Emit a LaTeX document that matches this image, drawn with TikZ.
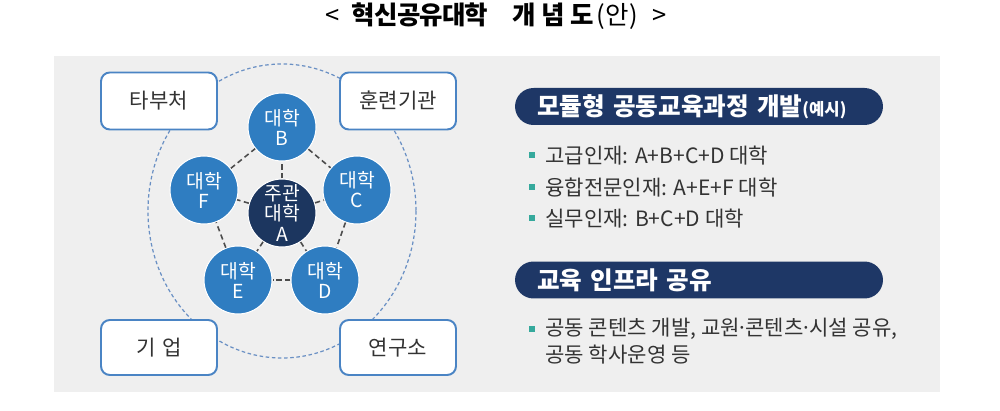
\documentclass[tikz,border=0pt]{standalone}
\usepackage{fontspec}
\setmainfont{Noto Sans CJK KR}
\definecolor{bgc}{HTML}{EFEFEF}
\definecolor{boxline}{HTML}{4A84C4}
\definecolor{ringc}{HTML}{6A90C4}
\definecolor{uni}{HTML}{2F7DC1}
\definecolor{core}{HTML}{1C365F}
\definecolor{pillc}{HTML}{1E3766}
\definecolor{bulc}{HTML}{35A99C}
\definecolor{txt}{HTML}{333333}
\newcommand{\tca}[1]{\makebox[0.452cm]{#1}}
\newcommand{\tcb}[1]{\makebox[0.58cm]{#1}}
\newcommand{\ndot}{\kern-0.15em·\kern-0.15em}
\tikzset{
  outbox/.style={draw=boxline, line width=1.1pt, fill=white, rounded corners=5pt,
    minimum width=2.32cm, minimum height=1.14cm, font=\fontsize{12}{13}\selectfont, text=txt},
  unic/.style={circle, fill=uni, draw=white, line width=0.6pt, minimum size=1.36cm, inner sep=0pt,
    text=white, align=center, font=\fontsize{11}{11.4}\selectfont},
  corec/.style={unic, fill=core},
  link/.style={draw=black!70, line width=0.9pt, dash pattern=on 3pt off 2pt},
  ring/.style={draw=ringc, line width=0.7pt, dash pattern=on 2pt off 1.5pt},
  pill/.style={fill=pillc, rounded corners=0.37cm, minimum width=7.36cm, minimum height=0.74cm,
    text width=6.48cm, inner xsep=0.44cm, align=left, text=white, font=\fontsize{14}{15}\selectfont\bfseries},
  bultext/.style={anchor=west, text=txt, align=left, inner sep=0pt, font=\fontsize{12}{15.4}\selectfont},
  bulsq/.style={fill=bulc, minimum size=0.13cm, inner sep=0pt},
}
\begin{document}
\begin{tikzpicture}[x=0.02cm,y=-0.02cm]
\useasboundingbox (0,0) rectangle (1000,411);
\fill[bgc] (54,56) rectangle (940,392);
\node[font=\fontsize{14.5}{15}\selectfont, text=black, inner sep=0pt] (title) at (496,16)
  {<\hspace{0.26cm}{\bfseries\tca{혁}\tca{신}\tca{공}\tca{유}\tca{대}\tca{학}\hspace{0.44cm}\tcb{개}\tcb{념}\tcb{도}}(안)\hspace{0.3cm}>};
% outer ring
\draw[ring] (282,211) ellipse [x radius=134, y radius=147];
% outer partner boxes
\node[outbox] (gov) at (159,101) {타부처};
\node[outbox] (train) at (398,101) {훈련기관};
\node[outbox, minimum height=1.1cm] (firm) at (159,347.5) {기\,\,업};
\node[outbox, minimum height=1.1cm] (lab) at (398,347.5) {연구소};
% universities
\node[corec] (A) at (282,213) {주관\\대학\\A};
\node[unic] (B) at (282,127) {대학\\B};
\node[unic] (C) at (357,190) {대학\\C};
\node[unic] (D) at (325,280) {대학\\D};
\node[unic] (E) at (238,280) {대학\\E};
\node[unic] (F) at (204,190) {대학\\F};
\foreach \u in {B,C,D,E,F} \draw[link] (A) -- (\u);
\draw[link] (B) -- (C);
\draw[link] (C) -- (D);
\draw[link] (D) -- (E);
\draw[link] (E) -- (F);
\draw[link] (F) -- (B);
% right side
\node[pill] (p1) at (699,106.5) {모듈형 공동교육과정 개발{\fontsize{9.5}{10}\selectfont(예시)}};
\node[bulsq] (b1) at (532,155) {};
\node[bulsq] (b2) at (532,187) {};
\node[bulsq] (b3) at (532,218) {};
\node[bultext] (t1) at (545,156) {고급인재: A+B+C+D 대학};
\node[bultext] (t2) at (545,188) {융합전문인재: A+E+F 대학};
\node[bultext] (t3) at (545,219) {실무인재: B+C+D 대학};
\node[pill] (p2) at (699,280) {교육 인프라 공유};
\node[bulsq] (b4) at (532,329) {};
\node[bultext, anchor=north west] (t4) at (545,318) {공동 콘텐츠 개발, 교원\ndot 콘텐츠\ndot 시설 공유,\\공동 학사운영 등};
\end{tikzpicture}
\end{document}
